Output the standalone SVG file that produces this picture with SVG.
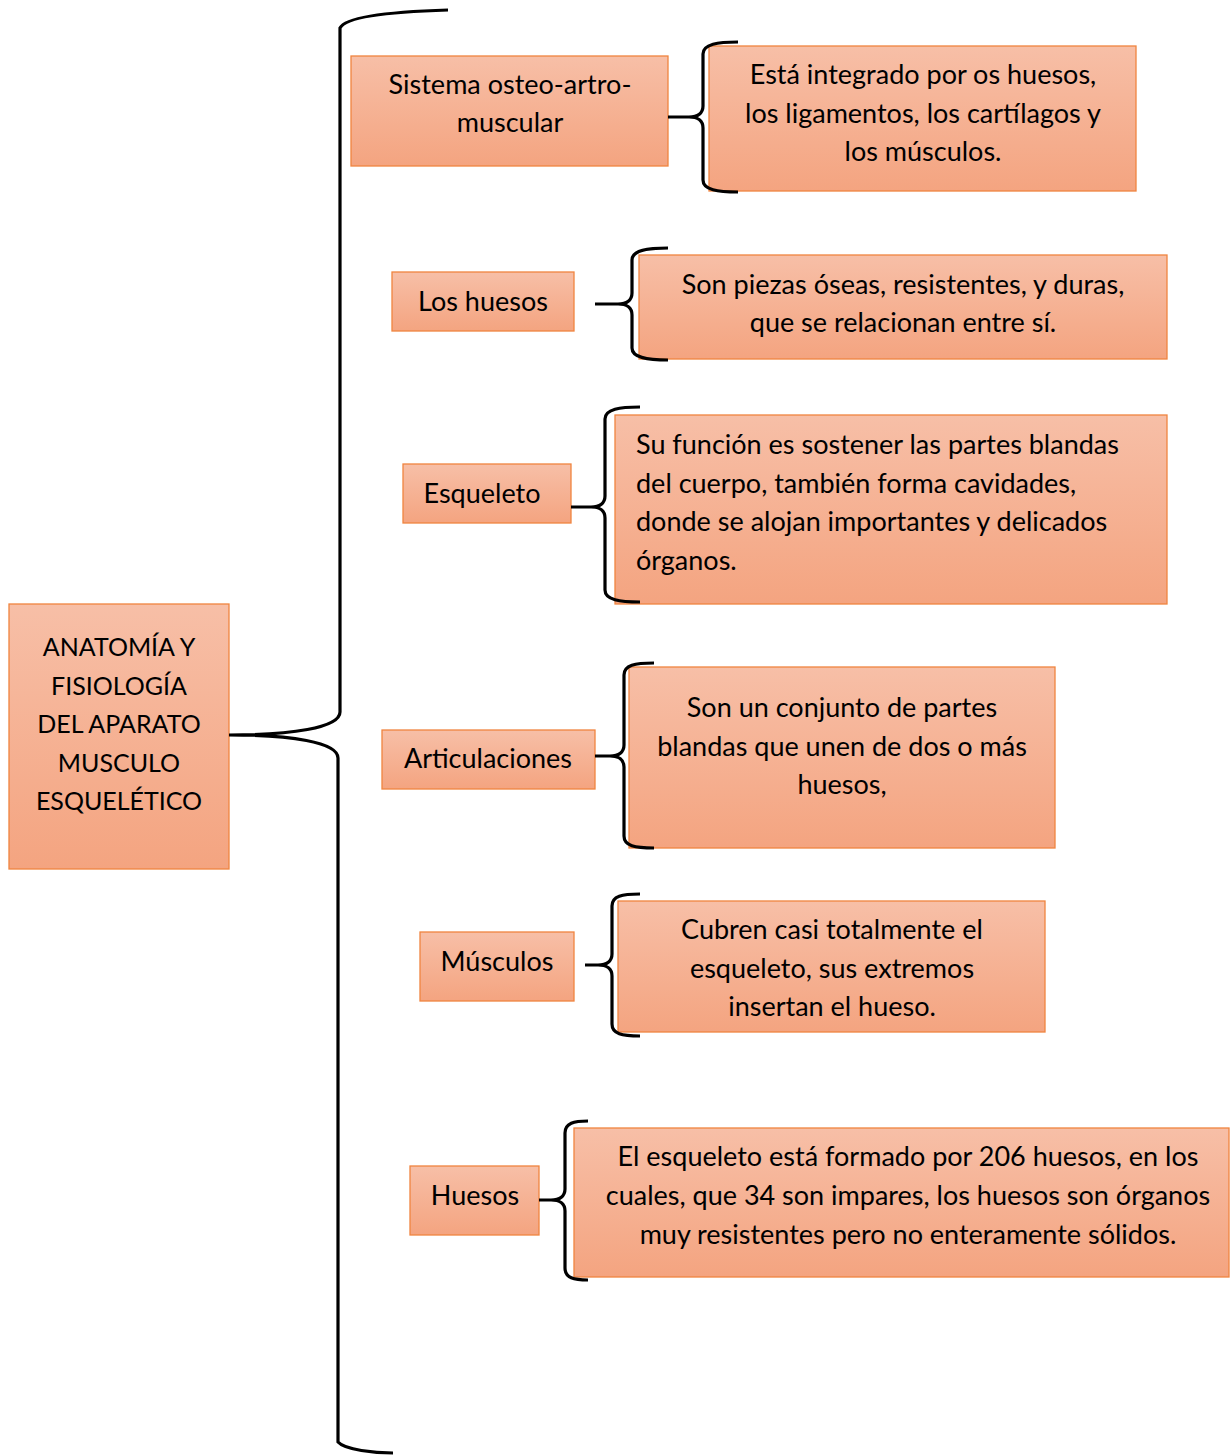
<svg xmlns="http://www.w3.org/2000/svg" width="1230" height="1455" viewBox="0 0 1230 1455">
<defs>
<linearGradient id="g" x1="0" y1="0" x2="0" y2="1">
<stop offset="0" stop-color="#F7BFA7"/>
<stop offset="1" stop-color="#F4A480"/>
</linearGradient>
<style>
.box{fill:url(#g);stroke:#F0843F;stroke-width:1.3}
text{font-family:Lato,"Liberation Sans",sans-serif;font-size:27px;fill:#000}
.c{text-anchor:middle}
.m{font-size:25px}
.br{fill:none;stroke:#000;stroke-width:3.2;stroke-linecap:butt}
</style>
</defs>
<rect width="1230" height="1455" fill="#fff"/>
<g id="main">
<rect class="box" x="9" y="604" width="220" height="265"/>
<text class="c m" x="119" y="656">ANATOMÍA Y</text>
<text class="c m" x="119" y="695">FISIOLOGÍA</text>
<text class="c m" x="119" y="733">DEL APARATO</text>
<text class="c m" x="119" y="772">MUSCULO</text>
<text class="c m" x="119" y="810">ESQUELÉTICO</text>
</g>
<g id="n1">
<rect class="box" x="351" y="56" width="317" height="110"/>
<text class="c" x="510" y="94">Sistema osteo-artro-</text>
<text class="c" x="510" y="132">muscular</text>
</g>
<g id="d1">
<rect class="box" x="709" y="46" width="427" height="145"/>
<text class="c" x="923" y="84">Está integrado por os huesos,</text>
<text class="c" x="923" y="123">los ligamentos, los cartílagos y</text>
<text class="c" x="923" y="161">los músculos.</text>
</g>
<g id="n2">
<rect class="box" x="392" y="272" width="182" height="59"/>
<text class="c" x="483" y="311">Los huesos</text>
</g>
<g id="d2">
<rect class="box" x="639" y="255" width="528" height="104"/>
<text class="c" x="903" y="294">Son piezas óseas, resistentes, y duras,</text>
<text class="c" x="903" y="332">que se relacionan entre sí.</text>
</g>
<g id="n3">
<rect class="box" x="403" y="464" width="168" height="59"/>
<text class="c" x="482" y="503">Esqueleto</text>
</g>
<g id="d3">
<rect class="box" x="615" y="415" width="552" height="189"/>
<text x="636" y="454">Su función es sostener las partes blandas</text>
<text x="636" y="493">del cuerpo, también forma cavidades,</text>
<text x="636" y="531">donde se alojan importantes y delicados</text>
<text x="636" y="570">órganos.</text>
</g>
<g id="n4">
<rect class="box" x="382" y="730" width="213" height="59"/>
<text class="c" x="488" y="768">Articulaciones</text>
</g>
<g id="d4">
<rect class="box" x="629" y="667" width="426" height="181"/>
<text class="c" x="842" y="717">Son un conjunto de partes</text>
<text class="c" x="842" y="756">blandas que unen de dos o más</text>
<text class="c" x="842" y="794">huesos,</text>
</g>
<g id="n5">
<rect class="box" x="420" y="932" width="154" height="69"/>
<text class="c" x="497" y="971">Músculos</text>
</g>
<g id="d5">
<rect class="box" x="618" y="901" width="427" height="131"/>
<text class="c" x="832" y="939">Cubren casi totalmente el</text>
<text class="c" x="832" y="978">esqueleto, sus extremos</text>
<text class="c" x="832" y="1016">insertan el hueso.</text>
</g>
<g id="n6">
<rect class="box" x="410" y="1166" width="129" height="69"/>
<text class="c" x="475" y="1205">Huesos</text>
</g>
<g id="d6">
<rect class="box" x="574" y="1128" width="655" height="149"/>
<text class="c" x="908" y="1166">El esqueleto está formado por 206 huesos, en los</text>
<text class="c" x="908" y="1205">cuales, que 34 son impares, los huesos son órganos</text>
<text class="c" x="908" y="1244">muy resistentes pero no enteramente sólidos.</text>
</g>
<g id="connectors">
<path class="br" d="M448,10 C380,12 345,18 340,28 L340,712 C340,728 290,735 229,735 C290,735 338,742 338,758 L338,1442 C345,1450 375,1453 393,1453"/>
<path class="br" d="M668,117 L689,117 M738,42 C718,42 703,44 703,54 L703,106 C703,113 698,117 689,117 C698,117 703,121 703,128 L703,180 C703,190 718,192 738,192"/>
<path class="br" d="M595,304 L618,304 M668,248 C648,248 632,250 632,260 L632,293 C632,300 627,304 618,304 C627,304 632,308 632,315 L632,348 C632,358 648,360 668,360"/>
<path class="br" d="M571,507 L591,507 M640,407 C620,407 605,409 605,419 L605,496 C605,503 600,507 591,507 C600,507 605,511 605,518 L605,590 C605,600 620,602 640,602"/>
<path class="br" d="M595,756 L610,756 M654,663 C635,663 624,665 624,675 L624,745 C624,752 619,756 610,756 C619,756 624,760 624,767 L624,836 C624,846 635,848 654,848"/>
<path class="br" d="M585,965 L598,965 M640,894 C622,894 612,896 612,906 L612,954 C612,961 607,965 598,965 C607,965 612,969 612,976 L612,1024 C612,1034 622,1036 640,1036"/>
<path class="br" d="M539,1200 L551,1200 M588,1121 C574,1121 565,1123 565,1133 L565,1189 C565,1196 560,1200 551,1200 C560,1200 565,1204 565,1211 L565,1268 C565,1278 574,1280 588,1280"/>
</g>
</svg>
